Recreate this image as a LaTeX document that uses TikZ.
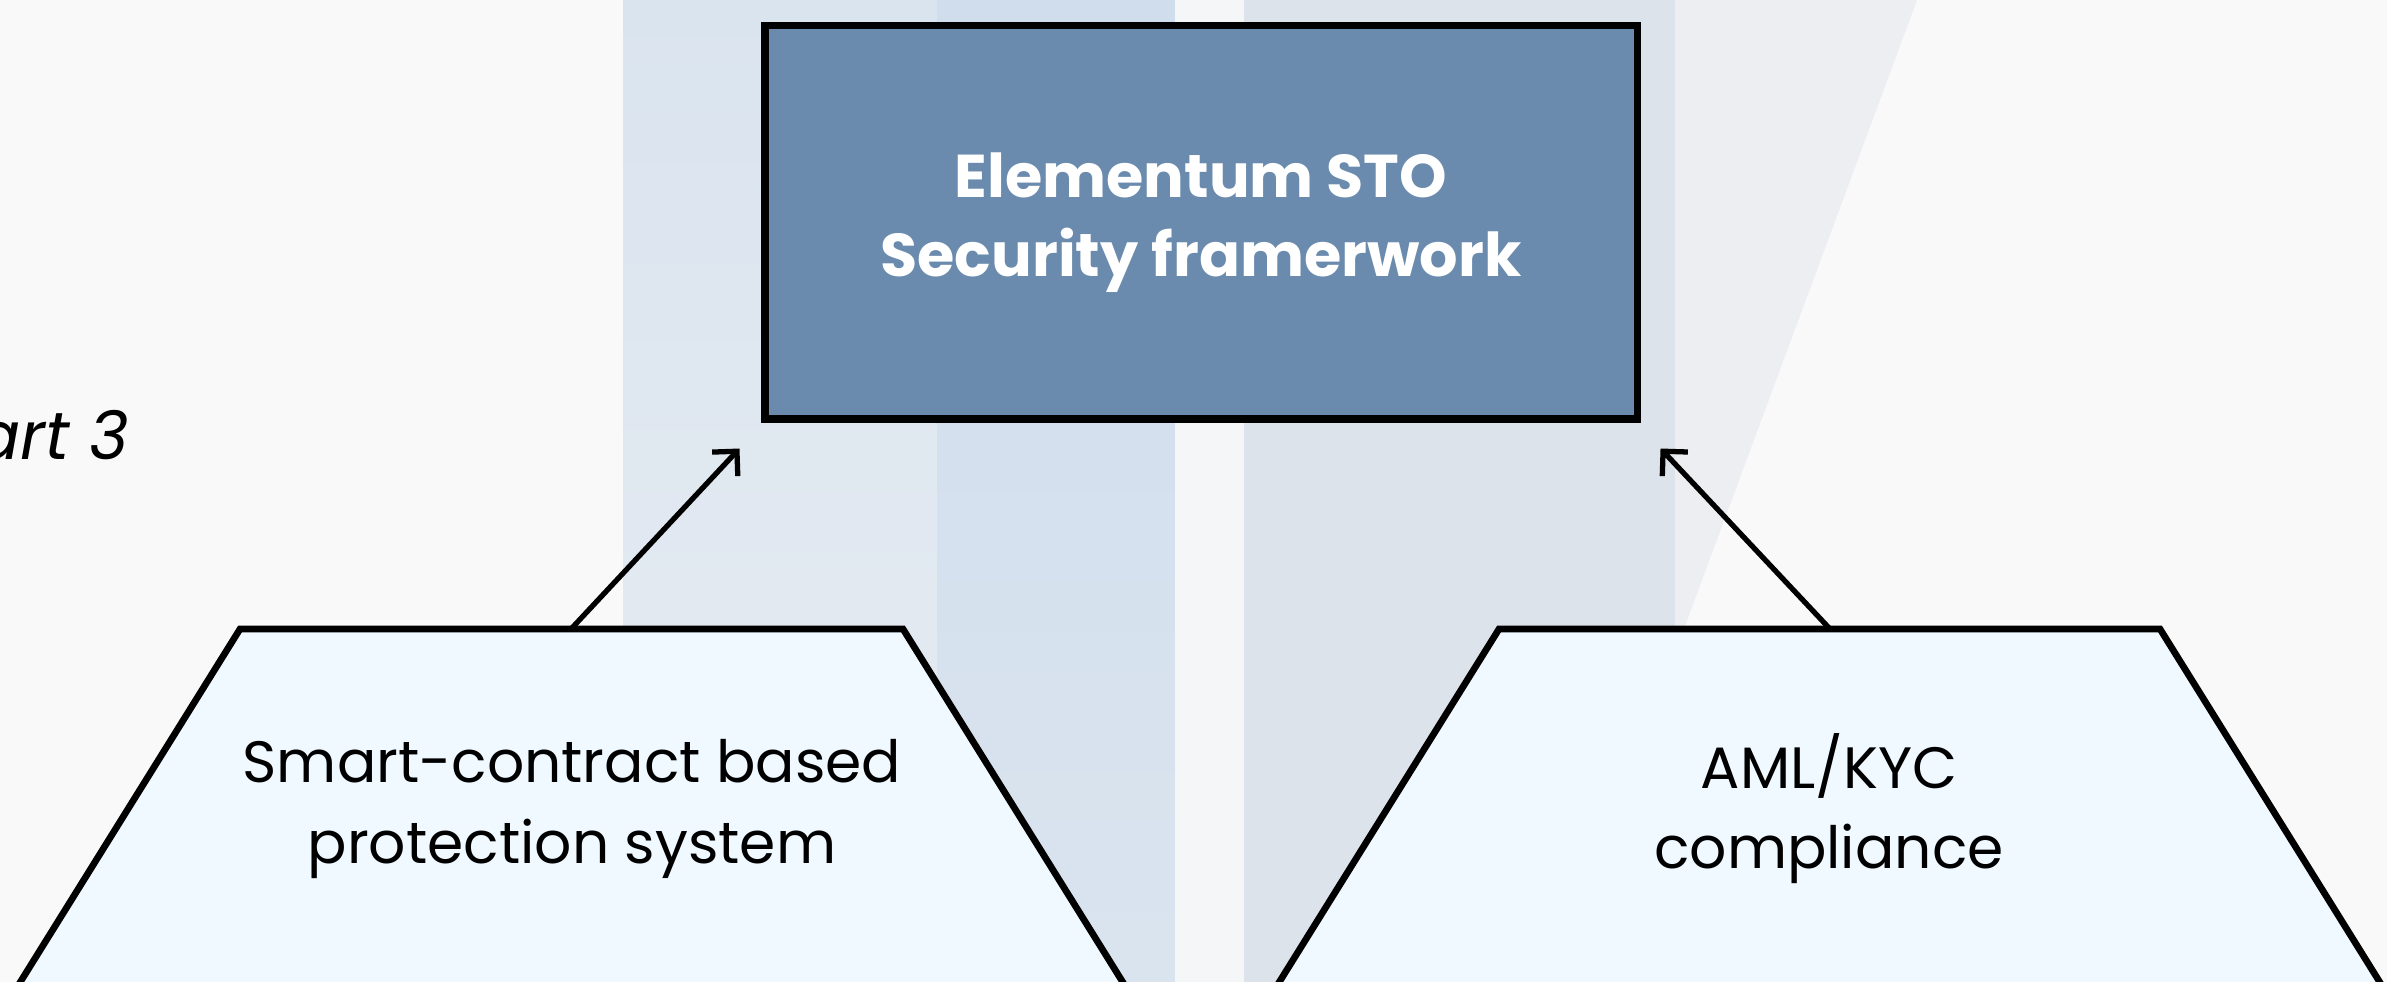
\documentclass[tikz,border=0pt]{standalone}
\usepackage{fontspec}
\setmainfont{Poppins}
\usepackage{xcolor}
\usepackage{tikz}
\usetikzlibrary{arrows.meta,positioning,calc}

\definecolor{bgwhite}{HTML}{F9F9FA}
\definecolor{panelgrey}{HTML}{E7ECF2}
\definecolor{panelblue}{HTML}{DAE4EF}
\definecolor{paneltop}{HTML}{CFDDEC}
\definecolor{panelstrip}{HTML}{F5F6F8}
\definecolor{panelslate}{HTML}{DDE3EA}
\definecolor{panelfog}{HTML}{ECEEF1}
\definecolor{stoblue}{HTML}{6A8BAD}
\definecolor{padfill}{HTML}{EFF9FF}

\begin{document}
\begin{tikzpicture}[
    titlebox/.style={draw=black, line width=2pt, fill=stoblue, text=white,
        font=\fontsize{17.2}{22.5}\selectfont\bfseries, align=center,
        minimum width=8.72cm, minimum height=3.935cm, inner sep=0pt},
    pad/.style={draw=black, line width=1.9pt, fill=padfill, line join=miter},
    padtext/.style={font=\fontsize{16.6}{22.8}\selectfont, align=center, inner sep=0pt},
    link/.style={-{Straight Barb[length=5pt,width=10pt]}, line width=1.5pt}
]
    \useasboundingbox (0,0) rectangle (23.87,-9.82);
    \clip (0,0) rectangle (23.87,-9.82);

    % Background: glass panels
    \fill[bgwhite] (0,0) rectangle (23.87,-9.82);
    \shade[top color=panelblue, bottom color=panelgrey] (6.23,0) rectangle (9.37,-9.82);
    \shade[top color=paneltop, bottom color=panelblue] (9.37,0) rectangle (11.75,-9.82);
    \fill[panelstrip] (11.75,0) rectangle (12.44,-9.82);
    \fill[panelslate] (12.44,0) rectangle (16.75,-9.82);
    \fill[panelfog] (16.75,0) -- (19.17,0) -- (16.75,-6.53) -- cycle;

    % Heading (cut at the left edge)
    \node[font=\fontsize{19}{23}\selectfont\itshape, anchor=base east, inner sep=0pt]
        (part) at (1.30,-4.60) {Part 3};

    % Top: framework box
    \node[titlebox] (sto) at (12.01,-2.2225) {Elementum STO\\Security framerwork};

    % Left pad
    \draw[pad] (-0.22,-10.5) -- (2.40,-6.29) -- (9.03,-6.29) -- (11.65,-10.5);
    \node[padtext] (smart) at (5.72,-8.09) {Smart-contract based\\protection system};

    % Right pad
    \draw[pad] (12.37,-10.5) -- (14.99,-6.29) -- (21.60,-6.29) -- (24.22,-10.5);
    \node[padtext] (aml) at (18.29,-8.09) {AML/KYC\\compliance};

    % Arrows up to the box
    \coordinate (smarttop) at (5.71,-6.29);
    \coordinate (amltop) at (18.30,-6.29);
    \coordinate (lefttip) at ($(sto.south west)+(-0.22,-0.26)$);
    \coordinate (righttip) at ($(sto.south east)+(0.20,-0.26)$);
    \draw[link] (smarttop) -- (lefttip);
    \draw[link] (amltop) -- (righttip);
\end{tikzpicture}
\end{document}
